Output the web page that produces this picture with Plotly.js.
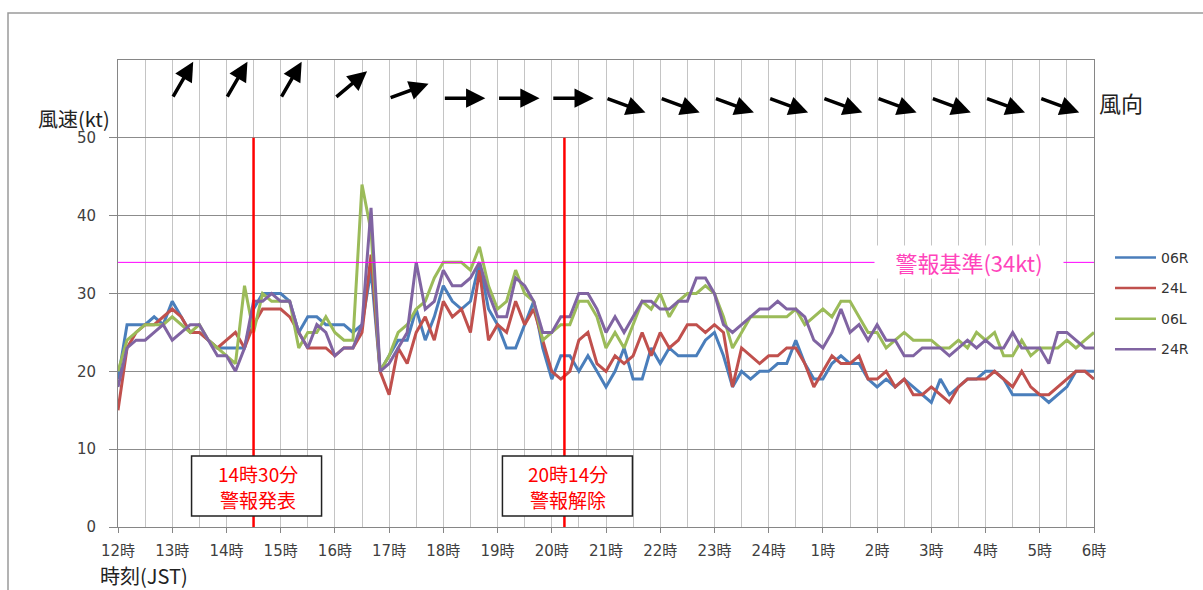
<!DOCTYPE html>
<html><head><meta charset="utf-8">
<script src="https://cdn.plot.ly/plotly-3.0.1.min.js"></script>
<style>html,body{margin:0;padding:0;background:#fff;overflow:hidden}#chart{width:1203px;height:590px}</style>
</head><body><div id="chart"></div>
<script>
// ---- data ----
const stepMinutes = 10; // sampling interval, starting 12時
const hourTickVals = [0,1,2,3,4,5,6,7,8,9,10,11,12,13,14,15,16,17,18];
const hourLabels = ['12時','13時','14時','15時','16時','17時','18時','19時','20時','21時','22時','23時','24時','1時','2時','3時','4時','5時','6時'];
const seriesNames = ['06R','24L','06L','24R'];

const s06R = [19,26,26,26,27,26,29,27,25,25,24,23,23,23,23,28,30,30,30,29,25,27,27,26,26,26,25,26,33,20,22,24,24,
  28,24,27,31,29,28,29,34,28,26,23,23,26,29,23,19,22,22,20,22,20,18,20,23,19,19,23,21,23,22,22,22,
  24,25,22,18,20,19,20,20,21,21,24,21,19,19,21,22,21,21,19,18,19,18,19,18,17,16,19,17,18,19,19,20,20,19,17,17,17,17,16,17,18,20,20,20];
const s24L = [15,23,25,26,26,27,28,27,25,25,24,23,24,25,23,26,28,28,28,27,25,23,23,23,22,23,23,25,35,20,17,23,21,
  25,27,24,29,27,28,25,33,24,26,25,29,26,28,24,20,19,20,24,25,21,20,22,21,22,25,22,25,23,24,26,26,
  25,26,25,18,23,22,21,22,22,23,23,21,18,20,22,21,21,22,19,19,20,18,19,17,17,18,17,16,18,19,19,19,20,19,18,20,18,17,17,18,19,20,20,19];
const s06L = [20,24,25,26,26,26,27,26,25,26,24,23,22,21,31,25,30,29,29,29,23,25,25,27,25,24,24,44,38,20,22,25,26,
  28,29,32,34,34,34,33,36,31,28,29,33,30,29,24,25,26,26,29,29,27,23,25,23,26,29,28,30,27,29,30,30,
  31,30,27,23,25,27,27,27,27,27,28,26,27,28,27,29,29,27,25,25,23,24,25,24,24,24,23,23,24,23,25,24,25,22,22,24,22,23,23,23,24,23,24,25];
const s24R = [18,23,24,24,25,26,24,25,26,26,24,22,22,20,23,29,29,30,29,29,25,23,26,25,22,23,23,26,41,20,21,23,25,
  34,28,29,33,31,31,32,34,30,27,27,32,31,29,25,25,27,27,30,30,28,25,27,25,27,29,29,28,28,29,29,32,
  32,30,26,25,26,27,28,28,29,28,28,27,24,23,25,28,25,26,24,26,24,24,22,22,23,23,23,22,23,24,23,24,23,23,25,23,23,23,21,25,25,24,23,23];

const thresholdKt = 34;
const thresholdLabel = '警報基準(34kt)';
const alertTimes = [2.5, 8 + 14/60];           // hours after 12時 (14:30, 20:14)
const alertLine1 = ['14時30分', '20時14分'];
const alertLine2 = ['警報発表', '警報解除'];
const windHours = [1,2,3,4,5,6,7,8,9,10,11,12,13,14,15,16,17]; // 13時 ... 5時
const windFromDeg = [210,210,210,230,250,270,270,270,290,290,290,290,290,290,290,290,290];

// ---- styles ----
const lineColors = ['#4A7EBB','#C0504D','#9BBB59','#8064A2'];
const cjk = 'Noto Sans CJK JP, DejaVu Sans, sans-serif';
const tickFont = {family: 'DejaVu Sans, Noto Sans CJK JP, sans-serif', size: 15, color: '#404040'};
const W = 1203, H = 590, M = {l: 118, r: 109, t: 60, b: 63};
const pw = W - M.l - M.r, ph = H - M.t - M.b;
const px2paperX = p => (p - M.l) / pw, px2paperY = p => (H - M.b - p) / ph;
const px2valY = p => (H - M.b - p) / ph * 60;

const allSeries = [s06R, s24L, s06L, s24R];
const traces = allSeries.map((vals, k) => ({
  type: 'scatter', mode: 'lines',
  x: vals.map((_, i) => i * stepMinutes / 60),
  y: vals, name: seriesNames[k], showlegend: false,
  line: {color: lineColors[k], width: 3}
}));

const shapes = [
  {type: 'line', xref: 'x', yref: 'y', x0: 0, x1: 18, y0: thresholdKt, y1: thresholdKt,
   line: {color: '#FF00FF', width: 1}},
  {type: 'rect', xref: 'paper', yref: 'paper', x0: px2paperX(8), x1: 1.3, y0: -0.3, y1: px2paperY(13),
   line: {color: '#9a9a9a', width: 1.5}, layer: 'below'}
];
alertTimes.forEach(t => shapes.push({type: 'line', xref: 'x', yref: 'y', x0: t, x1: t, y0: 0, y1: 50,
  line: {color: '#FF0000', width: 2.5}}));

const annotations = [
  {xref: 'x', yref: 'y', x: 15.69, y: thresholdKt, text: thresholdLabel, showarrow: false,
   xanchor: 'center', yanchor: 'middle', width: 188, align: 'center',
   bgcolor: '#ffffff', font: {family: cjk, size: 22, color: '#FF44BB'}, borderpad: 0},
  {xref: 'paper', yref: 'paper', x: px2paperX(73.5), y: px2paperY(119), text: '風速(kt)', showarrow: false,
   xanchor: 'center', yanchor: 'middle', font: {family: cjk, size: 20, color: '#222'}},
  {xref: 'paper', yref: 'paper', x: px2paperX(143.5), y: px2paperY(575), text: '時刻(JST)', showarrow: false,
   xanchor: 'center', yanchor: 'middle', font: {family: cjk, size: 20, color: '#222'}},
  {xref: 'paper', yref: 'paper', x: px2paperX(1121), y: px2paperY(102), text: '風向', showarrow: false,
   xanchor: 'center', yanchor: 'middle', font: {family: cjk, size: 22, color: '#222'}}
];
// legend (drawn manually so it does not push the plot area)
seriesNames.forEach((n, k) => {
  const yp = px2paperY(257.5 + 30.6 * k);
  shapes.push({type: 'line', xref: 'paper', yref: 'paper', x0: px2paperX(1115), x1: px2paperX(1156),
               y0: yp, y1: yp, line: {color: lineColors[k], width: 2.5}});
  annotations.push({xref: 'paper', yref: 'paper', x: px2paperX(1159), y: yp, text: n, showarrow: false,
    xanchor: 'left', yanchor: 'middle', font: {family: 'DejaVu Sans, sans-serif', size: 14, color: '#333'}});
});
// alert boxes
alertTimes.forEach((t, k) => {
  shapes.push({type: 'rect', xref: 'x', yref: 'y', xsizemode: 'pixel', xanchor: t, x0: -62, x1: 68,
    y0: px2valY(516), y1: px2valY(456), fillcolor: '#ffffff', line: {color: '#222', width: 1.5}, layer: 'above'});
  annotations.push({xref: 'x', yref: 'y', x: t, y: px2valY(473.5), xshift: 4, text: alertLine1[k], showarrow: false,
    xanchor: 'center', yanchor: 'middle', font: {family: cjk, size: 19, color: '#FF0000'}});
  annotations.push({xref: 'x', yref: 'y', x: t, y: px2valY(499), xshift: 4, text: alertLine2[k], showarrow: false,
    xanchor: 'center', yanchor: 'middle', font: {family: cjk, size: 19, color: '#FF0000'}});
});
const arrowLen = 42;
windHours.forEach((h, k) => {
  const toward = (windFromDeg[k] + 180) * Math.PI / 180;
  const dx = Math.sin(toward) * arrowLen, dyUp = Math.cos(toward) * arrowLen;
  annotations.push({xref: 'x', yref: 'y', x: h, y: 55.1, text: '', showarrow: true,
    xshift: dx, yshift: dyUp, ax: -dx, ay: dyUp, axref: 'pixel', ayref: 'pixel',
    arrowhead: 2, arrowsize: 1.1, arrowwidth: 3.5, arrowcolor: '#000', standoff: 0});
});

const layout = {
  width: W, height: H,
  margin: M,
  paper_bgcolor: '#ffffff', plot_bgcolor: '#ffffff',
  font: tickFont,
  showlegend: false,
  xaxis: {range: [0, 18], tickmode: 'array', tickvals: hourTickVals, ticktext: hourLabels,
          showgrid: true, gridcolor: '#c4c4c4', gridwidth: 1, zeroline: false,
          showline: true, linecolor: '#868686', linewidth: 1, mirror: true,
          ticks: 'outside', ticklen: 5, tickcolor: '#868686', tickfont: tickFont, ticklabelstandoff: 5,
          minor: {tickmode: 'array', tickvals: hourTickVals.slice(0, 18).map(v => v + 0.5),
                  showgrid: true, gridcolor: '#c4c4c4', gridwidth: 1, ticks: ''}},
  yaxis: {range: [0, 60], tickmode: 'array', tickvals: [0,10,20,30,40,50],
          showgrid: true, gridcolor: '#8c8c8c', gridwidth: 1, zeroline: false,
          showline: true, linecolor: '#868686', linewidth: 1, mirror: true,
          ticks: 'outside', ticklen: 8, tickcolor: '#868686', tickfont: tickFont, ticklabelstandoff: 10},
  shapes: shapes,
  annotations: annotations
};
Plotly.newPlot('chart', traces, layout, {staticPlot: true, displayModeBar: false});
</script></body></html>
